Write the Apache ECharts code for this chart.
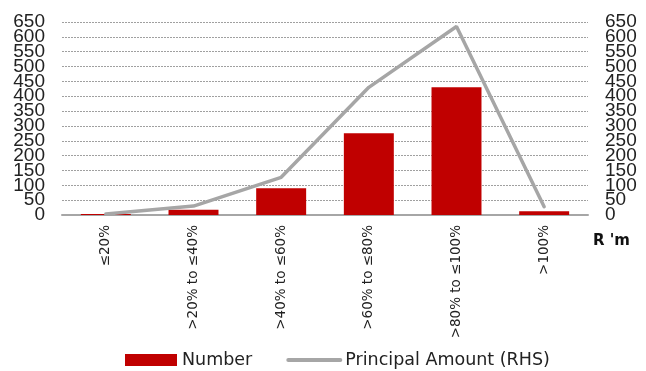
<!DOCTYPE html>
<html><head><meta charset="utf-8">
<script src="https://cdn.jsdelivr.net/npm/echarts@6/dist/echarts.min.js"></script>
<style>html,body{margin:0;padding:0;background:#fff}#c{width:646px;height:371px}</style>
</head><body><div id="c"></div>
<script>
const categories = ['≤20%', '>20% to ≤40%', '>40% to ≤60%', '>60% to ≤80%', '>80% to ≤100%', '>100%'];
const numberValues = [3, 18, 90, 275, 430, 13];
const principalValues = [3, 30, 127, 430, 635, 28];
const FONT = "'DejaVu Sans', sans-serif";
const NARROW = "'Liberation Sans', sans-serif";
const chart = echarts.init(document.getElementById('c'));
// even (multiples of 100) and odd (50, 150, ...) tick labels are split over two axes per side
function yAxisDef(position, parity, withGrid) {
  return {
    type: 'value', min: 0, max: 650, interval: 50, position: position,
    axisLine: { show: false }, axisTick: { show: false },
    axisLabel: {
      fontSize: 19, fontFamily: NARROW, color: '#222', margin: 17,
      showMinLabel: true, showMaxLabel: true, hideOverlap: false,
      formatter: function (v) { return ((v / 50) % 2 === parity) ? String(v) : ''; }
    },
    splitLine: withGrid ? { lineStyle: { type: [2, 1], color: '#a0a0a0', width: 1 } } : { show: false }
  };
}
chart.setOption({
  animation: false,
  textStyle: { fontFamily: FONT },
  grid: { left: 62, right: 58, top: 22, bottom: 156 },
  legend: {
    top: 346, left: 120, itemGap: 34, itemWidth: 52, itemHeight: 12,
    textStyle: { fontSize: 17.5, color: '#222', fontFamily: FONT },
    data: [
      { name: 'Number', icon: 'rect' },
      { name: 'Principal Amount (RHS)', itemStyle: { opacity: 0 }, lineStyle: { width: 4, color: '#A6A6A6' } }
    ]
  },
  xAxis: {
    type: 'category', data: categories,
    axisLine: { lineStyle: { color: '#A6A6A6', width: 2 } },
    axisTick: { show: false },
    axisLabel: { rotate: 90, fontSize: 13.5, color: '#222', margin: 10, interval: 0 }
  },
  yAxis: [
    yAxisDef('left', 0, true),
    yAxisDef('left', 1, false),
    yAxisDef('right', 0, false),
    yAxisDef('right', 1, false)
  ],
  graphic: [{ type: 'text', left: 593, top: 234,
    style: { text: "R 'm", font: "bold 15px " + FONT, fill: '#111' } }],
  series: [
    { name: 'Number', type: 'bar', yAxisIndex: 0, data: numberValues, barWidth: '57%',
      itemStyle: { color: '#C00000' }, z: 2 },
    { name: 'Principal Amount (RHS)', type: 'line', yAxisIndex: 2, data: principalValues,
      symbol: 'none', lineStyle: { color: '#A6A6A6', width: 3.5, cap: 'round' },
      itemStyle: { color: '#A6A6A6' }, z: 3 }
  ]
});
</script></body></html>
